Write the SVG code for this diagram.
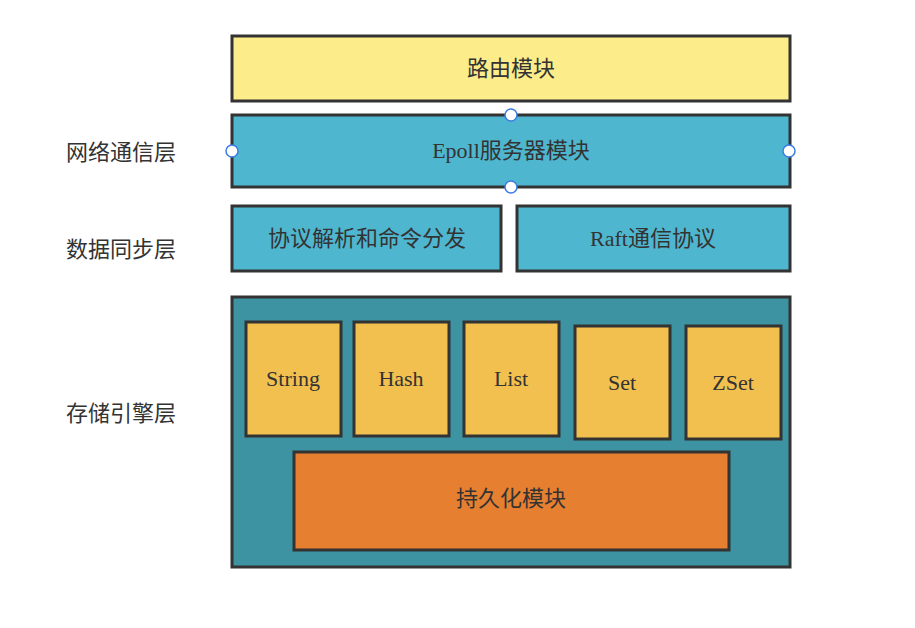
<svg xmlns="http://www.w3.org/2000/svg" width="915" height="628" viewBox="0 0 915 628">
<defs>
<style>
.box{stroke:#333333;stroke-width:3}
.t{font-family:"Liberation Serif","Noto Sans CJK SC",serif;font-size:22px;fill:#333333;text-anchor:middle;dominant-baseline:central}
.lbl{font-family:"Noto Sans CJK SC","Noto Sans",sans-serif;font-size:22px;fill:#333333;dominant-baseline:central}
.h{fill:#ffffff;stroke:#3b7ce6;stroke-width:1.5}
</style>
</defs>
<rect width="915" height="628" fill="#ffffff"/>
<g id="labels">
<text class="lbl" x="66" y="150">网络通信层</text>
<text class="lbl" x="66" y="247">数据同步层</text>
<text class="lbl" x="66" y="411">存储引擎层</text>
</g>
<g id="routing">
<rect class="box" x="232" y="36" width="558" height="65" fill="#fcec8a"/>
<text class="t" x="511" y="68">路由模块</text>
</g>
<g id="epoll">
<rect class="box" x="232" y="115" width="558" height="72" fill="#4fb6cf"/>
<text class="t" x="511" y="150">Epoll服务器模块</text>
</g>
<g id="protocol">
<rect class="box" x="232" y="206" width="269" height="65" fill="#4fb6cf"/>
<text class="t" x="367" y="238">协议解析和命令分发</text>
</g>
<g id="raft">
<rect class="box" x="517" y="206" width="273" height="65" fill="#4fb6cf"/>
<text class="t" x="653" y="238">Raft通信协议</text>
</g>
<g id="storage">
<rect class="box" x="232" y="297" width="558" height="270" fill="#3e93a3"/>
</g>
<g id="string">
<rect class="box" x="246" y="322" width="95" height="114" fill="#f2c04f"/>
<text class="t" x="293" y="378">String</text>
</g>
<g id="hash">
<rect class="box" x="354" y="322" width="95" height="114" fill="#f2c04f"/>
<text class="t" x="401" y="378">Hash</text>
</g>
<g id="list">
<rect class="box" x="464" y="322" width="95" height="114" fill="#f2c04f"/>
<text class="t" x="511" y="378">List</text>
</g>
<g id="set">
<rect class="box" x="575" y="326" width="95" height="113" fill="#f2c04f"/>
<text class="t" x="622" y="382">Set</text>
</g>
<g id="zset">
<rect class="box" x="686" y="326" width="95" height="113" fill="#f2c04f"/>
<text class="t" x="733" y="382">ZSet</text>
</g>
<g id="persistence">
<rect class="box" x="294" y="452" width="435" height="98" fill="#e77f31"/>
<text class="t" x="511" y="498">持久化模块</text>
</g>
<g id="connectors">
<circle class="h" cx="511" cy="115" r="6"/>
<circle class="h" cx="511" cy="187" r="6"/>
<circle class="h" cx="232" cy="151" r="6"/>
<circle class="h" cx="789" cy="151" r="6"/>
</g>
</svg>
